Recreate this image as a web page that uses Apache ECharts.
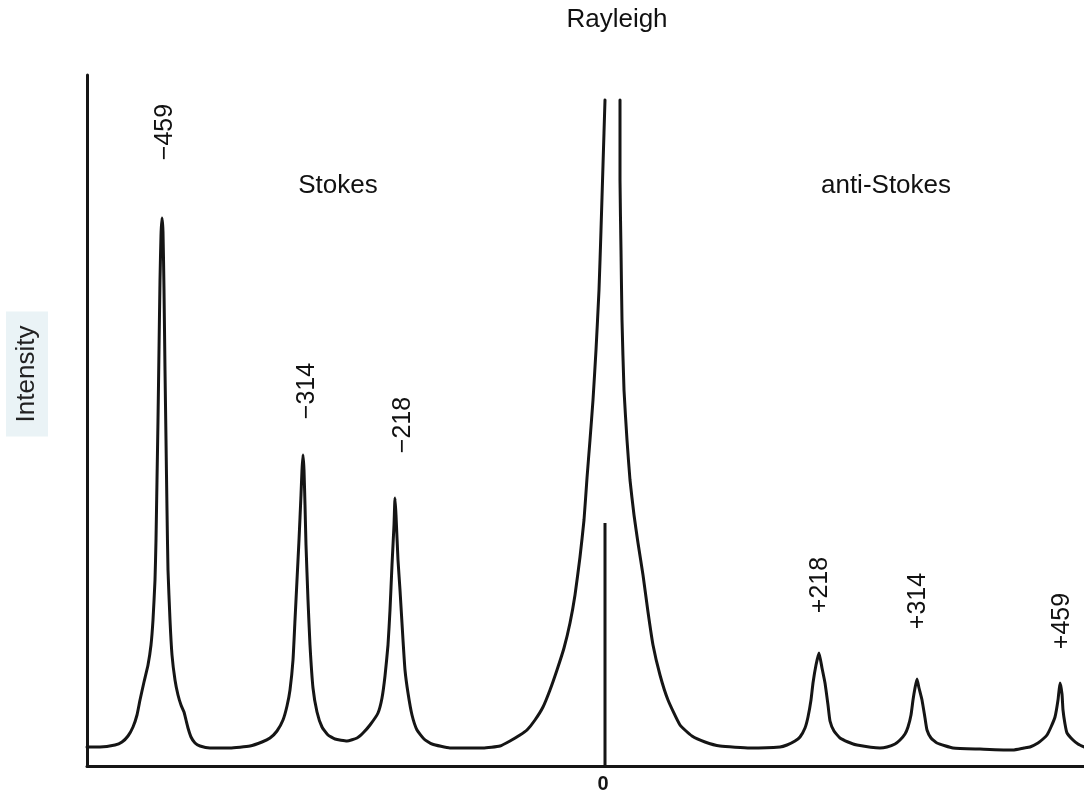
<!DOCTYPE html>
<html>
<head>
<meta charset="utf-8">
<script src="https://cdn.jsdelivr.net/npm/echarts@6/dist/echarts.min.js"></script>
<style>
  html, body { margin: 0; padding: 0; background: #ffffff; }
  #chart { width: 1084px; height: 795px; }
</style>
</head>
<body>
<div id="chart"></div>
<script>
// Raman shift (cm^-1, as drawn) and intensity (arbitrary units)
const spectrum = [
  [-516,19],[-503,19],[-488,21],[-481,24],[-475,30],[-470,39],[-466,51],[-463,66],[-459,84],[-455,101],
  [-452,121],[-450,146],[-448,186],[-447,226],[-446,286],[-445,346],[-444,416],[-443,486],[-442,531],[-441,548],
  [-440,534],[-439,476],[-438,396],[-437,326],[-436,256],[-435,196],[-433,146],[-431,111],[-428,86],[-425,71],
  [-422,61],[-419,54],[-417,46],[-415,38],[-412,29],[-408,23],[-403,20],[-393,18],[-373,18],[-353,20],
  [-341,24],[-333,28],[-326,35],[-320,46],[-316,60],[-313,76],[-310,106],[-308,146],[-306,186],[-304,226],
  [-302,271],[-301,296],[-300,311],[-299,296],[-298,261],[-297,221],[-295,166],[-293,121],[-290,78],[-286,54],
  [-281,39],[-275,31],[-268,27],[-256,25],[-246,28],[-240,33],[-233,41],[-225,53],[-221,68],[-218,90],
  [-215,121],[-213,156],[-211,201],[-209,241],[-208,268],[-207,251],[-205,206],[-203,176],[-200,126],[-198,96],
  [-195,73],[-191,51],[-186,36],[-179,27],[-171,22],[-153,18],[-120,18],[-103,20],[-93,25],[-83,31],
  [-76,36],[-68,46],[-60,59],[-53,76],[-46,96],[-39,118],[-33,143],[-28,171],[-23,209],[-19,246],
  [-16,288],[-13,326],[-10,366],[-7,416],[-4,476],[-2,536],[0,601],[2,666],
  [9,null],
  [17,666],[17,586],[18,516],[19,446],[21,376],[24,326],[27,286],[31,251],[35,223],[40,191],
  [45,154],[50,121],[57,91],[65,66],[77,41],[89,30],[102,24],[117,20],[147,18],[177,19],
  [184,21],[192,25],[197,29],[202,38],[205,49],[208,66],[210,83],[213,101],[216,113],[219,98],
  [222,83],[225,61],[227,45],[231,35],[237,28],[245,24],[254,21],[277,18],[284,19],[292,22],
  [297,26],[302,32],[305,39],[308,51],[310,66],[312,78],[314,87],[316,78],[319,66],[322,48],
  [324,36],[328,28],[334,23],[350,18],[377,17],[410,16],[421,18],[427,19],[435,23],[440,27],
  [444,31],[448,39],[452,49],[455,66],[457,83],[459,72],[460,56],[462,42],[464,33],[470,26],
  [475,22],[481,19]
];

// Zero-shift marker line
const zeroMarker = [[2,0],[2,243]];

// Peak labels and where they sit (data units)
const peakLabels = ['\u2212459','\u2212314','\u2212218','+218','+314','+459'];
const peakLabelX = [-438,-296,-200,217,315,459];
const peakLabelY = [634,375,341,181,165,145];

const regionLabels = ['Rayleigh','Stokes','anti-Stokes'];
const axisTitle = 'Intensity';
const xTickLabels = [0];

const INK = '#151515';
const FONT = '"Liberation Sans", Arial, sans-serif';

const chart = echarts.init(document.getElementById('chart'), null, { renderer: 'canvas' });

const labelPoints = peakLabels.map((t, i) => ({ value: [peakLabelX[i], peakLabelY[i]], name: t }));

chart.setOption({
  animation: false,
  backgroundColor: '#ffffff',
  grid: { left: 87, right: 0, top: 75, bottom: 29, containLabel: false, outerBoundsMode: 'none' },
  xAxis: {
    type: 'value', min: -516, max: 481,
    axisLine: { show: true, onZero: false, lineStyle: { color: INK, width: 3 } },
    axisTick: { show: false },
    splitLine: { show: false },
    axisLabel: {
      customValues: xTickLabels,
      color: INK, fontSize: 20, fontWeight: 'bold', fontFamily: FONT, margin: 8
    }
  },
  yAxis: {
    type: 'value', min: 0, max: 691,
    axisLine: { show: true, onZero: false, lineStyle: { color: INK, width: 3 } },
    axisTick: { show: false },
    axisLabel: { show: false },
    splitLine: { show: false }
  },
  series: [
    {
      type: 'line', data: spectrum, showSymbol: false, symbol: 'none',
      connectNulls: false, smooth: 0.15, clip: false,
      lineStyle: { color: INK, width: 3, join: 'round', cap: 'round' }
    },
    {
      type: 'line', data: zeroMarker, showSymbol: false, symbol: 'none',
      lineStyle: { color: INK, width: 3 }
    },
    {
      type: 'scatter', data: labelPoints, symbolSize: 0, clip: false,
      itemStyle: { opacity: 1, color: '#111' },
      label: {
        show: true, position: 'inside', rotate: 90,
        formatter: p => p.name,
        color: '#111', opacity: 1, textBorderWidth: 0, textBorderColor: 'transparent',
        fontSize: 25, fontFamily: FONT
      }
    }
  ],
  graphic: [
    { type: 'text', x: 617, y: 20, style: { text: regionLabels[0], font: '26px ' + FONT, fill: '#111', align: 'center', verticalAlign: 'middle' } },
    { type: 'text', x: 338, y: 186, style: { text: regionLabels[1], font: '26px ' + FONT, fill: '#111', align: 'center', verticalAlign: 'middle' } },
    { type: 'text', x: 886, y: 186, style: { text: regionLabels[2], font: '26px ' + FONT, fill: '#111', align: 'center', verticalAlign: 'middle' } },
    { type: 'text', x: 27, y: 374, rotation: Math.PI / 2,
      style: { text: axisTitle, font: '26px ' + FONT, fill: '#222', align: 'center', verticalAlign: 'middle',
               backgroundColor: '#eaf3f6', padding: [8, 14, 8, 14] } }
  ]
});
</script>
</body>
</html>
